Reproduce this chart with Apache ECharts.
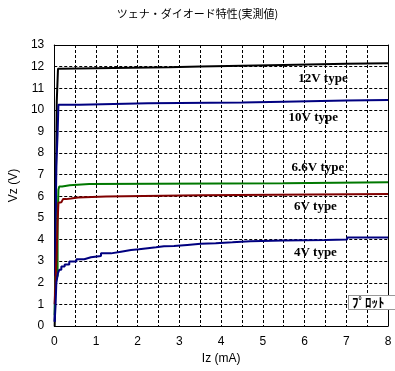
<!DOCTYPE html>
<html><head><meta charset="utf-8">
<script src="https://cdn.jsdelivr.net/npm/echarts@6/dist/echarts.min.js"></script>
<style>html,body{margin:0;padding:0;background:#fff}#c{width:395px;height:371px}</style>
</head><body><div id="c"></div>
<script>
// Data (Iz mA, Vz V), measured step-like values
var v12 = [[0.01,0],[0.02,1.0],[0.03,4.3],[0.06,10.4],[0.09,11.9],[0.1,11.97],[2.75,12.01],[3.5,12.08],[5.5,12.13],[7.0,12.16],[8,12.16]];
var v10 = [[0.01,0.2],[0.03,4.0],[0.05,7.4],[0.08,8.9],[0.1,10.23],[0.6,10.31],[2.25,10.34],[4.5,10.38],[5.5,10.43],[7.0,10.46],[8,10.46]];
var v66 = [[0.01,0.5],[0.03,2.3],[0.08,4.8],[0.1,6.3],[0.12,6.45],[0.19,6.51],[0.37,6.57],[0.84,6.6],[5.5,6.65],[8,6.65]];
var v6 = [[0.01,1.0],[0.03,2.0],[0.06,3.4],[0.08,4.8],[0.1,5.7],[0.13,5.72],[0.17,5.8],[0.21,5.87],[0.29,5.9],[0.4,5.95],[0.57,5.99],[1.24,6.05],[3.5,6.11],[8,6.11]];
var v4 = [[0.01,0.2],[0.03,0.9],[0.05,2.0],[0.09,2.45],[0.12,2.6],[0.17,2.75],[0.25,2.85],[0.36,2.98],[0.53,3.09],[0.72,3.18],[0.88,3.24],[1.12,3.36],[1.36,3.44],[1.6,3.52],[1.84,3.55],[2.03,3.6],[2.24,3.64],[2.44,3.69],[2.63,3.7],[2.87,3.75],[3.19,3.8],[3.51,3.83],[3.87,3.87],[4.27,3.92],[4.7,3.95],[5.49,3.98],[6.5,4.0],[7.02,4.1],[8,4.1]];
var seriesNames = ['12V type','10V type','6.6V type','6V type','4V type'];
var labelPos = [[6.44,11.43],[6.21,9.63],[6.32,7.31],[6.26,5.51],[6.26,3.38]];
var xTicks = [0,1,2,3,4,5,6,7,8];
var colors = ['#000000','#000080','#007800','#800000','#000080'];
var dataSets = [v12, v10, v66, v6, v4];

var chart = echarts.init(document.getElementById('c'), null, {renderer:'canvas'});
var series = dataSets.map(function(d,i){
  return {
    type:'line', name:seriesNames[i], data:d, step:'end', showSymbol:false, symbol:'none',
    lineStyle:{color:colors[i], width:2}, animation:false, z:3,
    markPoint:{symbol:'circle', symbolSize:0, animation:false,
      data:[{coord:labelPos[i], value:0}],
      label:{show:true, position:'inside', formatter:seriesNames[i], color:'#000',
        fontFamily:'Liberation Serif', fontWeight:'bold', fontSize:13}}
  };
});
var gridLine = {show:true, lineStyle:{color:'#000000', type:[3,2], width:1, opacity:1}};
var noLine = {show:false};
chart.setOption({
  animation:false,
  title:{text:'ツェナ・ダイオード特性(実測値)', left:'center', top:3,
    textStyle:{fontFamily:'Noto Sans CJK JP', fontSize:11, fontWeight:'normal', color:'#000'}},
  grid:{left:53, right:7, top:45, bottom:45, show:false},
  xAxis:[{type:'value', min:0, max:8, interval:0.5,
    name:'Iz (mA)', nameLocation:'middle', nameGap:22,
    nameTextStyle:{fontFamily:'Liberation Sans', fontSize:12, color:'#000'},
    axisLine:{show:true, onZero:false, lineStyle:{color:'#000', width:1}},
    axisTick:{show:false},
    axisLabel:{color:'#000', fontFamily:'Liberation Sans', fontSize:12, margin:10,
      formatter:function(v){return xTicks.indexOf(v)>=0 ? String(v) : '';}},
    splitLine:gridLine, z:1},
    {type:'value', position:'top', min:0, max:8, interval:0.5,
    axisLine:{show:true, onZero:false, lineStyle:{color:'#000', width:1}},
    axisTick:{show:false}, axisLabel:{show:false}, splitLine:noLine}],
  yAxis:[{type:'value', min:0, max:13, interval:1,
    name:'Vz (V)', nameLocation:'middle', nameGap:26, nameRotate:90,
    nameTextStyle:{fontFamily:'Liberation Sans', fontSize:12, color:'#000'},
    axisLine:{show:true, onZero:false, lineStyle:{color:'#000', width:1}},
    axisTick:{show:false},
    axisLabel:{color:'#000', fontFamily:'Liberation Sans', fontSize:12, margin:10},
    splitLine:gridLine, z:1},
    {type:'value', position:'right', min:0, max:13, interval:1,
    axisLine:{show:true, onZero:false, lineStyle:{color:'#000', width:1}},
    axisTick:{show:false}, axisLabel:{show:false}, splitLine:noLine}],
  graphic:[{type:'text', left:348, top:295, z:10,
    style:{text:'ﾌﾟﾛｯﾄ', fontFamily:'Noto Sans CJK JP', fontWeight:'bold', fontSize:13, fill:'#000',
      backgroundColor:'#fff', borderColor:'#999', borderWidth:1, padding:[0,12,0,3]}}],
  series:series
});
</script></body></html>
